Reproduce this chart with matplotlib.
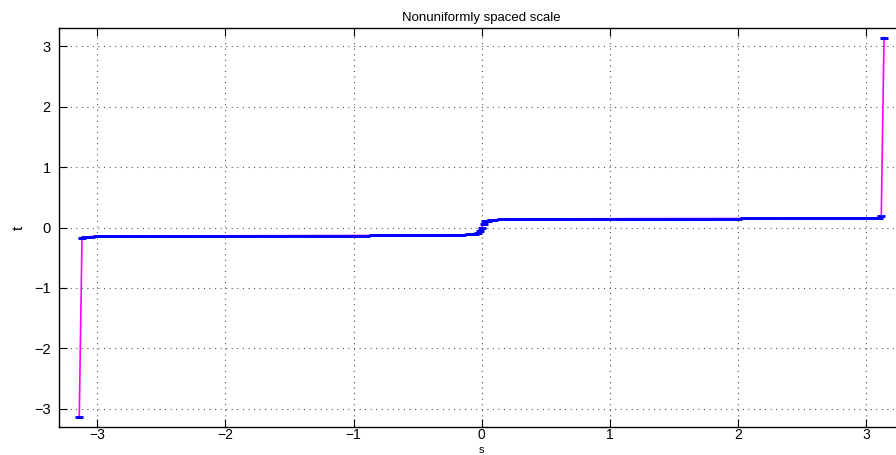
import matplotlib
matplotlib.use("Agg")
import matplotlib.pyplot as plt

plt.rcParams['font.family'] = ['Liberation Sans', 'DejaVu Sans']

s_left = [-3.1416, -3.12, -3.10, -3.05, -3.00, -2.95, -2.90, -2.85, -2.80, -2.75,
          -2.70, -2.65, -2.60, -2.55, -2.50, -2.45, -2.40, -2.35, -2.30, -2.25,
          -2.20, -2.15, -2.10, -2.05, -2.00, -1.95, -1.90, -1.85, -1.80, -1.75,
          -1.70, -1.65, -1.60, -1.55, -1.50, -1.45, -1.40, -1.35, -1.30, -1.25,
          -1.20, -1.15, -1.10, -1.05, -1.00, -0.95, -0.90, -0.85, -0.80, -0.75,
          -0.70, -0.65, -0.60, -0.55, -0.50, -0.45, -0.40, -0.35, -0.30, -0.25,
          -0.20, -0.15, -0.10, -0.07, -0.05, -0.03, -0.015]
t_left = [-3.1416, -0.175, -0.158, -0.150, -0.145, -0.143, -0.142, -0.141, -0.141, -0.140,
          -0.140, -0.140, -0.139, -0.139, -0.139, -0.138, -0.138, -0.138, -0.138, -0.137,
          -0.137, -0.137, -0.137, -0.137, -0.136, -0.136, -0.136, -0.136, -0.135, -0.135,
          -0.135, -0.135, -0.135, -0.134, -0.134, -0.134, -0.134, -0.134, -0.133, -0.133,
          -0.133, -0.133, -0.133, -0.132, -0.132, -0.132, -0.132, -0.131, -0.131, -0.131,
          -0.130, -0.130, -0.130, -0.129, -0.129, -0.128, -0.128, -0.127, -0.126, -0.125,
          -0.123, -0.120, -0.115, -0.108, -0.100, -0.085, -0.050]
s_mid = [0.0]
t_mid = [0.0]
s_right = [0.015, 0.03, 0.05, 0.07, 0.10, 0.15, 0.20, 0.25, 0.30, 0.35,
           0.40, 0.45, 0.50, 0.55, 0.60, 0.65, 0.70, 0.75, 0.80, 0.85,
           0.90, 0.95, 1.00, 1.05, 1.10, 1.15, 1.20, 1.25, 1.30, 1.35,
           1.40, 1.45, 1.50, 1.55, 1.60, 1.65, 1.70, 1.75, 1.80, 1.85,
           1.90, 1.95, 2.00, 2.05, 2.10, 2.15, 2.20, 2.25, 2.30, 2.35,
           2.40, 2.45, 2.50, 2.55, 2.60, 2.65, 2.70, 2.75, 2.80, 2.85,
           2.90, 2.95, 3.00, 3.05, 3.10, 3.12, 3.1416]
t_right = [0.060, 0.100, 0.115, 0.122, 0.128, 0.133, 0.136, 0.138, 0.140, 0.141,
           0.142, 0.142, 0.143, 0.143, 0.144, 0.144, 0.144, 0.145, 0.145, 0.145,
           0.145, 0.146, 0.146, 0.146, 0.146, 0.146, 0.147, 0.147, 0.147, 0.147,
           0.147, 0.148, 0.148, 0.148, 0.148, 0.148, 0.148, 0.149, 0.149, 0.149,
           0.149, 0.149, 0.149, 0.150, 0.150, 0.150, 0.150, 0.150, 0.151, 0.151,
           0.151, 0.151, 0.151, 0.152, 0.152, 0.152, 0.152, 0.153, 0.153, 0.153,
           0.154, 0.154, 0.155, 0.158, 0.165, 0.190, 3.1416]

s = s_left + s_mid + s_right
t = t_left + t_mid + t_right

x_ticks = [-3, -2, -1, 0, 1, 2, 3]
y_ticks = [-3, -2, -1, 0, 1, 2, 3]
x_tick_labels = ['\u22123', '\u22122', '\u22121', '0', '1', '2', '3']
y_tick_labels = ['\u22123', '\u22122', '\u22121', '0', '1', '2', '3']

fig = plt.figure(figsize=(8.96, 4.55), dpi=100)
ax = fig.add_axes([0.0658, 0.0615, 0.9435, 0.8769])

ax.plot(s, t, '-', color='#ff00ff', linewidth=1.2, zorder=2)
ax.plot(s, t, linestyle='none', marker='_', markersize=5.5, markeredgewidth=2.1,
        color='#0000ff', zorder=3)

ax.set_xlim(-3.3, 3.3)
ax.set_ylim(-3.3, 3.3)
ax.set_xticks(x_ticks)
ax.set_xticklabels(x_tick_labels)
ax.set_yticks(y_ticks)
ax.set_yticklabels(y_tick_labels)
ax.tick_params(direction='in', length=6, width=0.8, top=True, right=True,
               labelsize=10.5)
ax.tick_params(axis='x', pad=0.5, labelsize=10)
ax.tick_params(axis='y', pad=6)
ax.grid(True, linestyle=(0, (1, 4)), color='#555555', linewidth=0.8)
for sp in ax.spines.values():
    sp.set_linewidth(1.0)

ax.set_title('Nonuniformly spaced scale', fontsize=9.5, pad=5)
ax.set_xlabel('s', fontsize=8, va='bottom')
ax.xaxis.set_label_coords(0.5, -0.0695)
ax.set_ylabel('t', fontsize=11, labelpad=6, rotation=90)

fig.savefig('out.png', dpi=100)
